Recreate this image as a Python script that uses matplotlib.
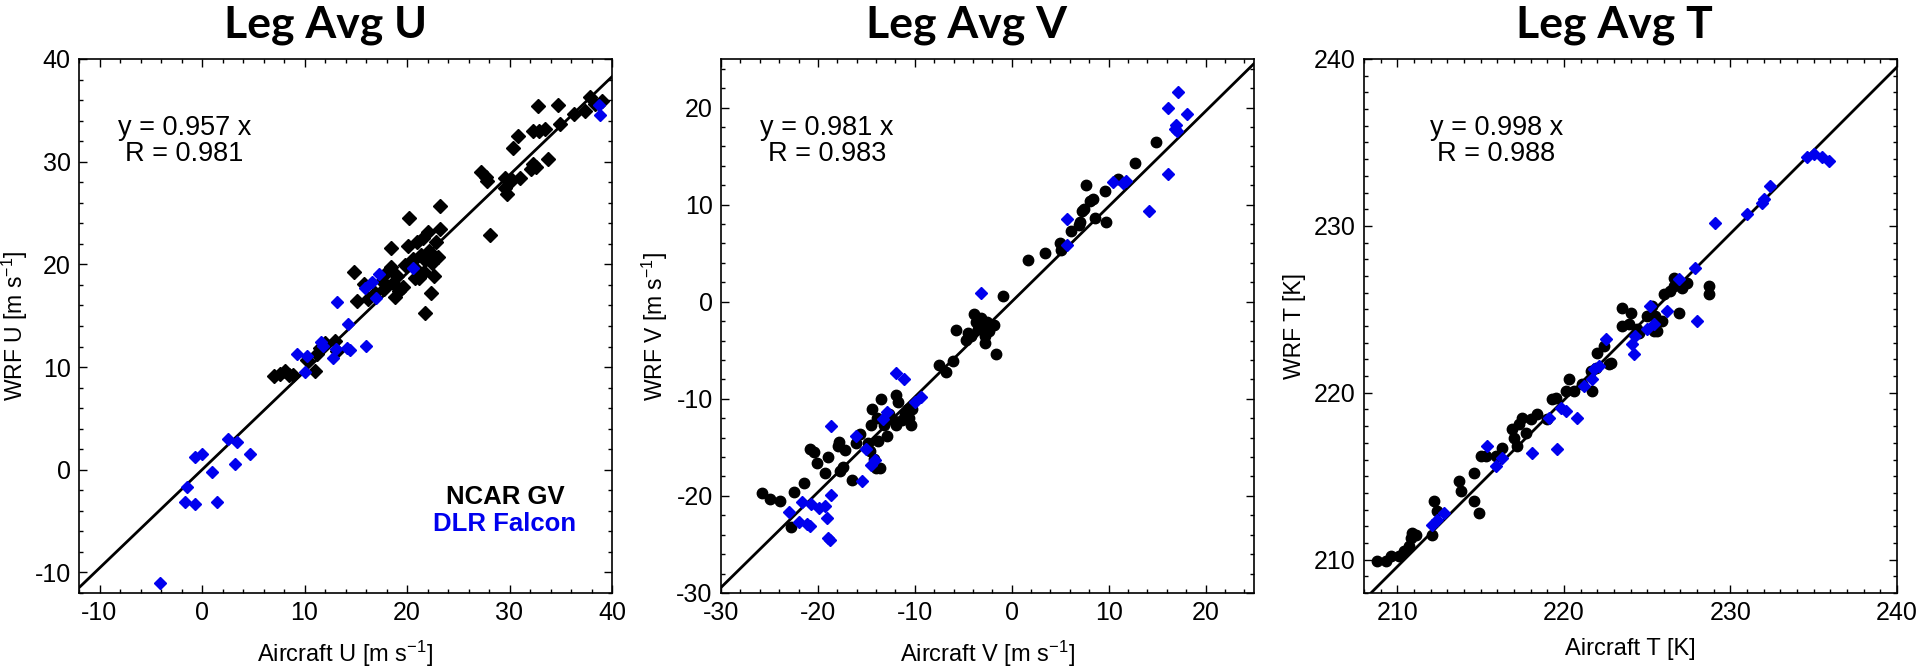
import numpy as np
import matplotlib
matplotlib.use("Agg")
import matplotlib.pyplot as plt
from matplotlib.ticker import MultipleLocator

plt.rcParams['font.family'] = ['Liberation Sans', 'DejaVu Sans']
plt.rcParams['mathtext.fontset'] = 'custom'
plt.rcParams['mathtext.rm'] = 'Liberation Sans'
plt.rcParams['mathtext.it'] = 'Liberation Sans'
plt.rcParams['mathtext.default'] = 'rm'
plt.rcParams['axes.unicode_minus'] = False

# ---- Leg Avg U ----
u_gv_x = [7.0, 7.6, 8.1, 8.5, 8.9, 10.2, 11.0, 11.2, 11.5, 12.0, 13.0, 13.2,
          14.8, 15.1, 15.8, 16.2, 16.9, 17.8, 18.4, 18.4, 18.6, 18.8, 19.2, 19.6,
          19.8, 20.1, 20.2, 20.6, 20.8, 21.0, 21.4, 21.6, 21.7, 21.8, 22.0, 22.1,
          22.3, 22.4, 22.6, 22.8, 23.0, 23.2, 23.2, 18.0, 17.6, 19.0, 21.2, 21.8, 20.7,
          27.2, 27.7, 27.8, 28.1, 29.6, 29.6, 29.8, 30.2, 30.3, 30.8, 31.0, 32.1,
          32.3, 32.6, 32.3, 32.8, 32.9, 33.5, 33.8, 34.7, 34.9, 36.3, 37.4, 37.9,
          38.3, 39.0]
u_gv_y = [9.1, 9.3, 9.6, 9.2, 9.2, 10.7, 9.6, 11.3, 11.9, 12.3, 12.5, 11.6,
          19.3, 16.4, 18.1, 16.6, 17.2, 17.6, 21.6, 19.7, 18.2, 16.8, 17.4, 17.8,
          19.9, 21.8, 24.5, 20.5, 18.7, 22.2, 20.9, 22.6, 19.3, 15.3, 23.2, 21.3,
          17.2, 20.1, 18.9, 22.2, 20.7, 25.7, 23.4, 19.3, 18.4, 18.9, 18.7, 20.4, 19.7,
          29.0, 28.5, 28.1, 22.9, 27.4, 28.4, 26.9, 28.2, 31.3, 32.5, 28.4, 29.3,
          29.8, 29.5, 33.0, 35.4, 33.0, 33.2, 30.3, 35.5, 33.7, 34.6, 34.9, 36.3,
          35.6, 35.9]
u_dlr_x = [-4.1, -1.5, -1.7, -0.7, -0.7, 0.0, 1.0, 1.5, 2.5, 3.4, 3.2, 4.7,
           9.3, 10.0, 10.2, 11.6, 11.8, 12.8, 13.1, 13.2, 14.2, 14.1, 14.4, 16.0,
           15.9, 16.6, 17.3, 17.0, 20.6, 38.7, 38.8]
u_dlr_y = [-11.0, -1.7, -3.1, -3.3, 1.2, 1.5, -0.2, -3.1, 3.0, 2.7, 0.6, 1.5,
           11.3, 9.5, 11.1, 12.4, 12.1, 10.9, 11.8, 16.3, 14.2, 11.9, 11.7, 12.1,
           17.7, 18.3, 19.1, 16.7, 19.6, 35.5, 34.5]

# ---- Leg Avg V ----
v_gv_x = [-25.8, -24.9, -23.9, -22.8, -22.5, -21.4, -20.8, -20.4, -20.1, -19.3,
          -19.0, -17.8, -17.7, -17.4, -17.2, -17.9, -16.5, -16.1, -15.7, -14.8,
          -14.6, -14.5, -14.4, -14.2, -14.0, -13.8, -13.6, -13.5, -13.9, -13.2,
          -12.9, -12.7, -11.9, -11.7, -11.9, -11.3, -11.0, -10.6, -10.4, -10.3,
          -10.7, -12.3, -7.5, -6.8, -6.1, -5.8, -4.7, -4.5, -4.2, -3.9, -3.7,
          -3.5, -3.2, -3.0, -2.8, -2.8, -2.6, -2.3, -1.8, -1.6, -0.9, 1.7, 3.4,
          5.0, 5.1, 6.1, 7.0, 7.2, 7.5, 7.7, 8.1, 8.4, 8.6, 9.6, 9.7, 11.0, 12.7,
          14.9, 6.9]
v_gv_y = [-19.7, -20.3, -20.5, -23.2, -19.6, -18.7, -15.2, -15.5, -16.6, -17.6,
          -16.0, -14.4, -17.4, -17.0, -15.3, -14.9, -18.4, -14.6, -13.6, -14.5,
          -15.4, -12.7, -11.1, -16.2, -17.1, -14.3, -17.1, -10.0, -12.0, -12.7,
          -13.8, -11.6, -9.6, -10.3, -12.7, -12.2, -11.6, -12.0, -12.7, -11.1,
          -11.1, -12.2, -6.5, -7.2, -6.1, -2.9, -3.9, -3.2, -3.5, -1.3, -2.1,
          -2.8, -1.7, -2.6, -3.5, -4.3, -2.1, -3.0, -2.4, -5.4, 0.6, 4.3, 5.0,
          6.0, 5.3, 7.3, 8.2, 9.3, 9.6, 12.0, 10.4, 10.6, 8.6, 11.4, 8.2, 12.6, 14.3,
          16.4, 7.9]
v_dlr_x = [-23.0, -21.9, -21.6, -21.1, -20.8, -20.7, -19.9, -19.3, -19.1, -19.0,
           -18.8, -18.7, -18.6, -16.1, -15.5, -15.0, -14.5, -14.1, -13.3, -12.9,
           -11.9, -11.1, -10.0, -9.4, -3.2, 5.7, 5.7, 10.4, 11.5, 11.8, 14.2,
           16.1, 16.1, 16.8, 17.0, 17.2, 17.1, 18.1]
v_dlr_y = [-21.7, -22.7, -20.6, -22.9, -23.1, -20.8, -21.2, -21.0, -22.3, -24.3,
           -24.5, -12.8, -19.9, -13.8, -18.5, -15.2, -16.8, -16.3, -12.1, -11.4,
           -7.3, -8.0, -10.3, -9.8, 0.9, 8.5, 5.8, 12.3, 12.2, 12.4, 9.3,
           13.2, 20.0, 17.8, 18.2, 21.6, 17.6, 19.3]

# ---- Leg Avg T ----
t_gv_x = [208.8, 209.3, 209.6, 210.1, 210.4, 210.7, 210.9, 211.1, 210.8, 212.1,
          212.2, 212.4, 213.7, 213.8, 214.6, 214.6, 214.9, 215.0, 215.3, 215.9,
          216.3, 216.9, 217.0, 217.2, 217.3, 217.5, 217.7, 218.0, 218.4, 219.0,
          219.3, 219.5, 220.1, 220.3, 220.6, 221.1, 221.7, 221.6, 221.9, 222.0,
          222.4, 222.7, 222.8, 223.5, 223.5, 223.9, 224.0, 224.4, 224.5, 225.0,
          225.3, 225.4, 225.5, 225.6, 225.9, 226.0, 226.4, 226.6, 226.6, 226.9,
          227.1, 227.4, 228.7, 228.7]
t_gv_y = [209.9, 209.9, 210.2, 210.2, 210.5, 210.8, 211.6, 211.5, 211.3, 211.5,
          213.5, 212.9, 214.7, 214.1, 215.2, 213.5, 212.8, 216.2, 216.2, 216.2,
          216.7, 217.8, 217.3, 216.8, 218.1, 218.5, 217.6, 218.4, 218.7, 218.4,
          219.6, 219.7, 220.1, 220.8, 220.1, 220.5, 220.1, 221.3, 221.5, 222.4,
          222.8, 221.7, 221.8, 224.0, 225.1, 224.1, 224.8, 223.8, 223.6, 224.6,
          225.2, 223.7, 224.6, 223.7, 224.3, 225.9, 226.1, 226.9, 226.4, 224.8,
          226.3, 226.6, 226.4, 225.9]
t_dlr_x = [212.1, 212.4, 212.8, 215.4, 215.9, 216.3, 218.1, 219.1, 219.6, 219.8,
           220.1, 220.8, 221.2, 221.7, 221.8, 222.1, 222.5, 224.1, 224.2, 224.3,
           225.0, 225.2, 225.4, 226.2, 226.9, 227.9, 228.0, 229.1, 231.0, 231.9,
           232.0, 232.4, 234.6, 235.0, 235.5, 235.9]
t_dlr_y = [212.1, 212.4, 212.8, 216.8, 215.6, 216.1, 216.4, 218.5, 216.6, 219.1,
           218.9, 218.5, 220.4, 220.8, 221.4, 221.6, 223.2, 222.9, 222.3, 223.4,
           223.8, 225.2, 224.1, 224.9, 226.8, 227.5, 224.3, 230.2, 230.7, 231.4,
           231.6, 232.4, 234.1, 234.3, 234.1, 233.9]

titles = ['Leg Avg U', 'Leg Avg V', 'Leg Avg T']
xlabels = ['Aircraft U [m s$^{-1}$]', 'Aircraft V [m s$^{-1}$]', 'Aircraft T [K]']
ylabels = ['WRF U [m s$^{-1}$]', 'WRF V [m s$^{-1}$]', 'WRF T [K]']
slopes = [0.957, 0.981, 0.998]
rvals = [0.981, 0.983, 0.988]
limits = [(-12, 40), (-30, 25), (208, 240)]
minor_step = [2, 2, 1]

gv_sets = [(u_gv_x, u_gv_y), (v_gv_x, v_gv_y), (t_gv_x, t_gv_y)]
dlr_sets = [(u_dlr_x, u_dlr_y), (v_dlr_x, v_dlr_y), (t_dlr_x, t_dlr_y)]
gv_marker = ['D', 'o', 'o']

W, H = 1920, 666
fig = plt.figure(figsize=(W / 100, H / 100), dpi=100)

ax_left = [79, 721, 1364]
title_x = [326, 967, 1614]
eq_x = [0.198, 0.199, 0.248]
ylab_x = [-0.092, -0.095, -0.108]
blue = '#0000ee'

for i in range(3):
    ax = fig.add_axes([ax_left[i] / W, 73 / H, 533 / W, 534 / H])
    lo, hi = limits[i]

    gx, gy = gv_sets[i]
    dx, dy = dlr_sets[i]
    ax.plot(gx, gy, linestyle='none', marker=gv_marker[i], color='black',
            markersize=7 if gv_marker[i] == 'D' else 7.5, zorder=3)
    ax.plot(dx, dy, linestyle='none', marker='D', color=blue,
            markersize=6, zorder=4)

    xs = np.array([lo, hi])
    ax.plot(xs, slopes[i] * xs, color='black', lw=2, zorder=2)

    ax.set_xlim(lo, hi)
    ax.set_ylim(lo, hi)
    ax.xaxis.set_major_locator(MultipleLocator(10))
    ax.yaxis.set_major_locator(MultipleLocator(10))
    ax.xaxis.set_minor_locator(MultipleLocator(minor_step[i]))
    ax.yaxis.set_minor_locator(MultipleLocator(minor_step[i]))
    ax.tick_params(which='both', direction='in', top=True, right=True, width=1)
    ax.tick_params(which='major', length=6, labelsize=18, pad=6)
    ax.tick_params(which='minor', length=3)
    for sp in ax.spines.values():
        sp.set_linewidth(1.2)

    ax.set_xlabel(xlabels[i], fontsize=17)
    ax.set_ylabel(ylabels[i], fontsize=16.5)
    ax.xaxis.set_label_coords(0.5, -0.085)
    ax.yaxis.set_label_coords(ylab_x[i], 0.5)

    ax.text(eq_x[i], 0.846, 'y = %.3f x\nR = %.3f' % (slopes[i], rvals[i]),
            transform=ax.transAxes, ha='center', va='center', fontsize=19.5,
            linespacing=1.0)

    fig.text(title_x[i] / W, 1 - 25 / H, titles[i], ha='center', va='center',
             fontsize=32, fontweight='bold', family=['Lato', 'DejaVu Sans'])

    if i == 0:
        ax.text(0.799, 0.180, 'NCAR GV', transform=ax.transAxes, ha='center',
                va='center', fontsize=18.5, fontweight='bold', color='black')
        ax.text(0.799, 0.130, 'DLR Falcon', transform=ax.transAxes, ha='center',
                va='center', fontsize=18.5, fontweight='bold', color=blue)

plt.savefig('out.png', dpi=100)
